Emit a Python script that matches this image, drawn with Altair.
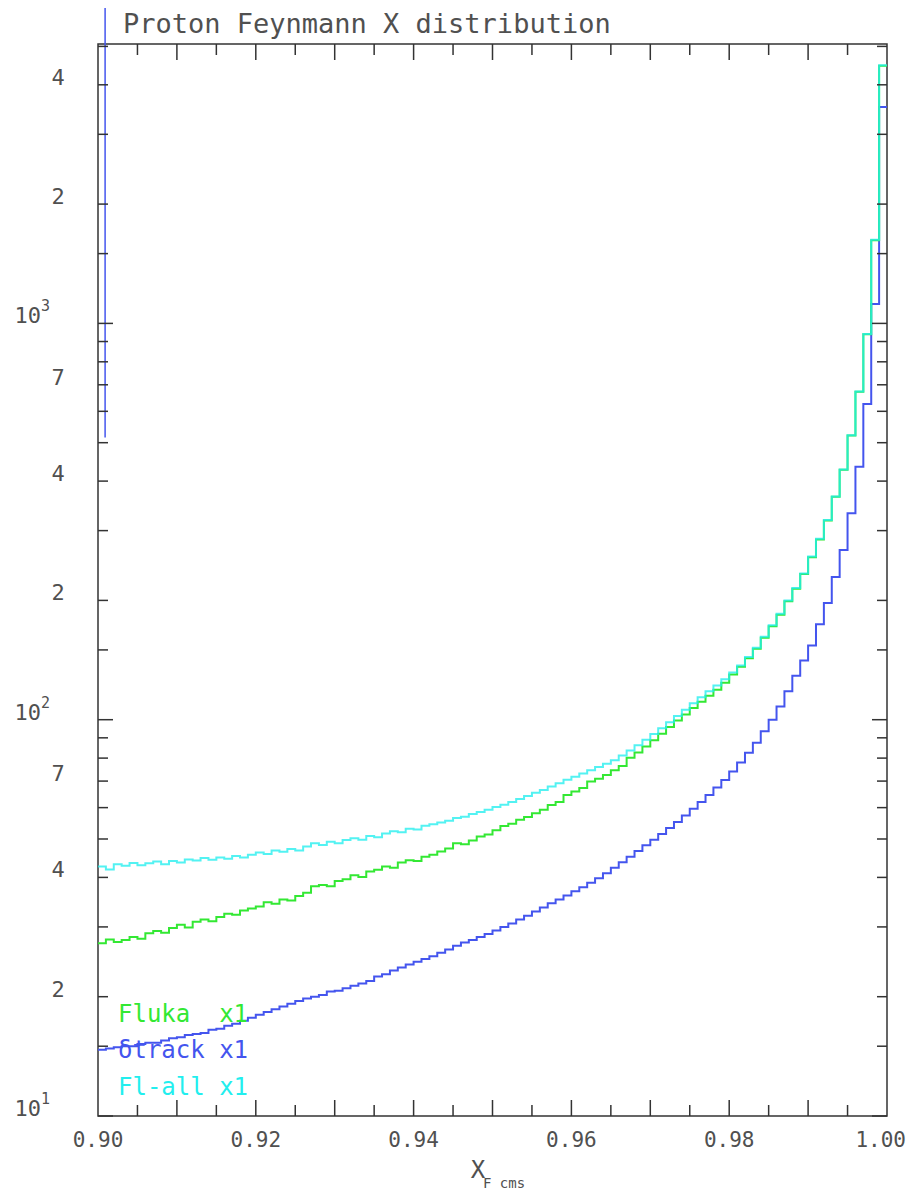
import altair as alt
import pandas as pd

# ---------------- data ----------------
x_start = 0.90
bin_width = 0.001

fluka = [27.3, 27.9, 27.5, 27.8, 28.3, 28.0, 28.9, 29.3, 29.0, 29.8,
         30.4, 29.9, 30.9, 31.3, 31.0, 31.8, 32.4, 32.2, 33.0, 33.4,
         33.8, 34.6, 34.3, 35.2, 35.0, 35.9, 36.6, 38.0, 38.3, 38.0,
         39.2, 39.6, 40.5, 40.1, 41.4, 41.8, 42.6, 42.3, 43.6, 44.2,
         44.0, 45.1, 45.6, 46.5, 47.3, 48.8, 48.5, 49.6, 50.7, 51.3,
         52.6, 53.9, 54.6, 55.9, 56.8, 58.1, 59.3, 60.9, 62.0, 64.6,
         65.9, 67.2, 69.8, 71.0, 72.5, 74.5, 76.4, 80.2, 82.6, 85.6,
         88.8, 92.2, 95.8, 99.6, 103, 107, 111, 115, 119, 124,
         130, 136, 143, 151, 161, 172, 184, 199, 214, 233,
         257, 285, 318, 365, 427, 521, 672, 939, 1622, 4470]

dtrack = [14.7, 14.8, 14.9, 15.0, 15.0, 15.2, 15.3, 15.3, 15.5, 15.7,
          15.8, 16.0, 16.1, 16.2, 16.5, 16.6, 16.9, 17.1, 17.4, 17.7,
          18.0, 18.3, 18.6, 18.9, 19.2, 19.5, 19.8, 20.0, 20.2, 20.6,
          20.7, 21.0, 21.3, 21.6, 21.9, 22.5, 22.8, 23.3, 23.7, 24.1,
          24.5, 24.9, 25.3, 25.8, 26.3, 26.9, 27.4, 27.8, 28.3, 28.8,
          29.4, 30.0, 30.6, 31.3, 32.0, 32.8, 33.6, 34.4, 35.2, 36.0,
          36.9, 37.8, 38.8, 39.8, 41.0, 42.3, 43.7, 45.1, 46.6, 48.2,
          49.8, 51.5, 53.3, 55.2, 57.3, 59.6, 62.0, 64.6, 67.4, 70.4,
          74.0, 78.0, 82.5, 87.5, 93.5, 100, 108, 118, 129, 141,
          154, 174, 197, 229, 268, 332, 435, 626, 1119, 3515]

flall = [42.6, 41.9, 43.2, 42.8, 43.5, 42.9, 43.4, 43.9, 43.2, 44.0,
         43.6, 44.4, 44.1, 44.8, 44.3, 44.9, 44.6, 45.3, 44.9, 45.6,
         46.2, 45.8, 46.8, 46.4, 47.2, 46.8, 47.9, 48.8, 48.3, 49.2,
         48.8, 49.7, 50.2, 49.8, 50.9, 50.5, 51.6, 52.3, 52.0, 53.1,
         52.8, 54.0, 54.5, 55.0, 55.6, 56.5, 56.9, 57.8, 58.5, 59.3,
         60.2, 61.0, 62.0, 63.1, 64.2, 65.4, 66.5, 67.8, 69.1, 70.5,
         71.8, 73.2, 74.6, 76.0, 77.4, 79.0, 81.2, 83.6, 86.2, 89.0,
         92.0, 95.2, 98.6, 102.2, 106, 110, 114, 118, 122, 126.5,
         131.5, 137, 144, 152, 162, 173, 185, 200, 215, 234,
         258, 286, 319, 366, 428, 522, 673, 940, 1625, 4480]

# isolated dtrack spike near the left edge
spike_x = [0.9009]
spike_lo = [515]
spike_hi = [100000]

y_major = [10, 100, 1000]
y_minor = [15, 20, 30, 40, 50, 60, 70, 80, 90,
           150, 200, 300, 400, 500, 600, 700, 800, 900,
           1500, 2000, 3000, 4000, 5000]
y_digit_vals = [20, 40, 70, 200, 400, 700, 2000, 4000]
y_digit_text = ["2", "4", "7", "2", "4", "7", "2", "4"]
y_exp_text = ["1", "2", "3"]

x_long = [0.91, 0.92, 0.93, 0.94, 0.95, 0.96, 0.97, 0.98, 0.99]
x_short = [0.905, 0.915, 0.925, 0.935, 0.945, 0.955, 0.965, 0.975, 0.985, 0.995]
x_lab_vals = [0.90, 0.92, 0.94, 0.96, 0.98]
x_lab_text = ["0.90", "0.92", "0.94", "0.96", "0.98"]
x_last_val = [1.00]
x_last_text = ["1.00"]

# ---------------- layout / style ----------------
W, H = 789, 1072
FONT = "DejaVu Sans Mono"
INK = "#505050"
GREEN = "#33e833"
BLUE = "#4455ee"
CYAN = "#22eeee"
NB = "\u00a0"

xs = alt.Scale(domain=[0.90, 1.00], nice=False, zero=False)
ys = alt.Scale(type="log", domain=[10, 5070], nice=False)


def steps(vals):
    rows = [{"x": round(x_start + bin_width * k, 4), "v": v} for k, v in enumerate(vals)]
    rows.append({"x": round(x_start + bin_width * len(vals), 4), "v": vals[-1]})
    return pd.DataFrame(rows)


def hist(vals, color, opacity=1.0):
    return alt.Chart(steps(vals)).mark_line(
        interpolate="step-after", color=color, strokeWidth=2, clip=True,
        strokeOpacity=opacity
    ).encode(
        x=alt.X("x:Q", scale=xs, axis=None),
        y=alt.Y("v:Q", scale=ys, axis=None),
    )


layers = []
layers.append(hist(dtrack, BLUE))
layers.append(hist(fluka, GREEN))
layers.append(hist(flall, CYAN, 0.78))

spike = alt.Chart(pd.DataFrame({"x": spike_x, "lo": spike_lo, "hi": spike_hi})).mark_rule(
    color=BLUE, strokeWidth=1.5, clip=False
).encode(
    x=alt.X("x:Q", scale=xs, axis=None),
    y=alt.Y("lo:Q", scale=ys, axis=None),
    y2="hi:Q",
)
layers.append(spike)

TICK = "#333333"


def yticks(vals, x0, x1):
    return alt.Chart(pd.DataFrame({"v": vals})).mark_rule(color=TICK, strokeWidth=1.5).encode(
        y=alt.Y("v:Q", scale=ys, axis=None), x=alt.value(x0), x2=alt.value(x1)
    )


def xticks(vals, y0, y1):
    return alt.Chart(pd.DataFrame({"x": vals})).mark_rule(color=TICK, strokeWidth=1.5).encode(
        x=alt.X("x:Q", scale=xs, axis=None), y=alt.value(y0), y2=alt.value(y1)
    )


layers += [
    yticks(y_major, 0, 15), yticks(y_minor, 0, 10),
    yticks(y_major, W - 15, W), yticks(y_minor, W - 10, W),
    xticks(x_long, H, H - 16), xticks(x_short, H, H - 11),
    xticks(x_long, 0, 16), xticks(x_short, 0, 11),
]

# y labels
layers.append(
    alt.Chart(pd.DataFrame({"v": y_digit_vals, "t": y_digit_text})).mark_text(
        font=FONT, fontSize=22, color=INK, align="center", baseline="alphabetic"
    ).encode(y=alt.Y("v:Q", scale=ys, axis=None), x=alt.value(-40), text="t:N")
)
layers.append(
    alt.Chart(pd.DataFrame({"v": y_major, "t": ["10"] * 3})).mark_text(
        font=FONT, fontSize=22, color=INK, align="right", baseline="alphabetic"
    ).encode(y=alt.Y("v:Q", scale=ys, axis=None), x=alt.value(-57), text="t:N")
)
layers.append(
    alt.Chart(pd.DataFrame({"v": y_major, "t": y_exp_text})).mark_text(
        font=FONT, fontSize=15, color=INK, align="left", baseline="alphabetic", dy=-12
    ).encode(y=alt.Y("v:Q", scale=ys, axis=None), x=alt.value(-57), text="t:N")
)

# x labels
layers.append(
    alt.Chart(pd.DataFrame({"x": x_lab_vals, "t": x_lab_text})).mark_text(
        font=FONT, fontSize=21, color=INK, align="center", baseline="middle"
    ).encode(x=alt.X("x:Q", scale=xs, axis=None), y=alt.value(H + 25), text="t:N")
)
layers.append(
    alt.Chart(pd.DataFrame({"x": x_last_val, "t": x_last_text})).mark_text(
        font=FONT, fontSize=21, color=INK, align="right", baseline="middle", dx=19
    ).encode(x=alt.X("x:Q", scale=xs, axis=None), y=alt.value(H + 25), text="t:N")
)


def label(text, x, y, size, color, align="left", baseline="alphabetic"):
    return alt.Chart(pd.DataFrame({"t": [text]})).mark_text(
        font=FONT, fontSize=size, color=color, align=align, baseline=baseline
    ).encode(x=alt.value(x), y=alt.value(y), text="t:N")


layers += [
    label("Proton Feynmann X distribution", 25, -11, 27, INK),
    label("Fluka" + NB + NB + "x1", 20, 978, 24, GREEN),
    label("\u03b4track" + NB + "x1", 20, 1014, 24, BLUE),
    label("Fl-all" + NB + "x1", 20, 1051, 24, CYAN),
    label("X", 380, H + 62, 24, INK, align="center"),
    label("F" + NB + "cms", 385, H + 72, 14, INK, align="left"),
]

chart = alt.layer(*layers).properties(
    width=W, height=H,
    autosize=alt.AutoSizeParams(type="none"),
    padding={"left": 90, "top": 36, "right": 20, "bottom": 77},
).configure_view(stroke="#333333", strokeWidth=1.5)

chart.save("out.html", embed_options={"renderer": "svg", "actions": False})
